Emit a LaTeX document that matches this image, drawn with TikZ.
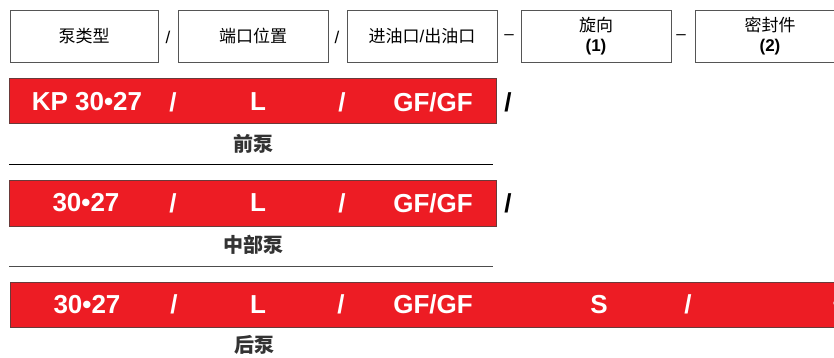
\documentclass[tikz,border=0pt]{standalone}
\usepackage{fontspec}
\setmainfont{Liberation Sans}
\newfontfamily\cjk{Noto Sans CJK SC}
\definecolor{barred}{HTML}{ED1C24}
\definecolor{barline}{HTML}{6A3A3A}
\definecolor{boxline}{HTML}{555555}
\definecolor{labelgray}{HTML}{333333}
\tikzset{
  hbox/.style={draw=boxline, line width=0.9pt, minimum height=52pt, text=black, inner sep=0pt, align=center, font=\fontsize{17}{20}\selectfont},
  sep/.style={inner sep=0pt, text=black, font=\fontsize{17}{20}\selectfont},
  bar/.style={fill=barred, draw=barline, line width=1pt},
  bartext/.style={inner sep=0pt, text=white, font=\fontsize{26}{28}\selectfont\bfseries},
  barsep/.style={inner sep=0pt, text=black, font=\fontsize{26}{28}\selectfont\bfseries},
  plabel/.style={inner sep=0pt, text=labelgray, font=\fontsize{20}{22}\selectfont\cjk\bfseries},
  rule/.style={line width=0.9pt}
}
\begin{document}
\begin{tikzpicture}[x=1pt, y=-1pt]
\clip (0,0) rectangle (834,358);
\fill[white] (0,0) rectangle (834,358);
% header boxes
\node[hbox, minimum width=148pt] (b1) at (84,36.5) {\cjk 泵类型};
\node[sep] (s1) at (168,37) {/};
\node[hbox, minimum width=150pt] (b2) at (253,36.5) {\cjk 端口位置};
\node[sep] (s2) at (337,37) {/};
\node[hbox, minimum width=150pt] (b3) at (422,36.5) {{\cjk 进油口}/{\cjk 出油口}};
\node[sep] (s3) at (509,37.5) {–};
\node[hbox, minimum width=150pt] (b4) at (596,36.5) {{\cjk 旋向}\\[0pt]\textbf{(1)}};
\node[sep] (s4) at (681,37.5) {–};
\node[hbox, minimum width=150pt] (b5) at (770,36.5) {{\cjk 密封件}\\[0pt]\textbf{(2)}};
% bar 1
\path[bar] (9,79) rectangle (496,124);
\node[bartext] (t11) at (87,102) {KP 30•27};
\node[bartext] (t12) at (173,102) {/};
\node[bartext] (t13) at (258,102) {L};
\node[bartext] (t14) at (342,102) {/};
\node[bartext] (t15) at (433,102) {GF/GF};
\node[barsep] (e1) at (508,102) {/};
\node[plabel] (l1) at (253,143.5) {前泵};
\draw[rule, black] (9,164) -- (493,164);
% bar 2
\path[bar] (9,180) rectangle (496,226);
\node[bartext] (t21) at (86,203) {30•27};
\node[bartext] (t22) at (173,203) {/};
\node[bartext] (t23) at (258,203) {L};
\node[bartext] (t24) at (342,203) {/};
\node[bartext] (t25) at (433,203) {GF/GF};
\node[barsep] (e2) at (508,203) {/};
\node[plabel] (l2) at (253,245) {中部泵};
\draw[rule, black!70] (9,266) -- (493,266);
% bar 3
\path[bar] (10,282) rectangle (900,327);
\node[bartext] (t31) at (87,304.5) {30•27};
\node[bartext] (t32) at (174,304.5) {/};
\node[bartext] (t33) at (258,304.5) {L};
\node[bartext] (t34) at (341,304.5) {/};
\node[bartext] (t35) at (433,304.5) {GF/GF};
\node[bartext] (t36) at (599,304.5) {S};
\node[bartext] (t37) at (688,304.5) {/};
\node[bartext] (t38) at (840,306) {–};
\node[plabel] (l3) at (254,345) {后泵};
\end{tikzpicture}
\end{document}
